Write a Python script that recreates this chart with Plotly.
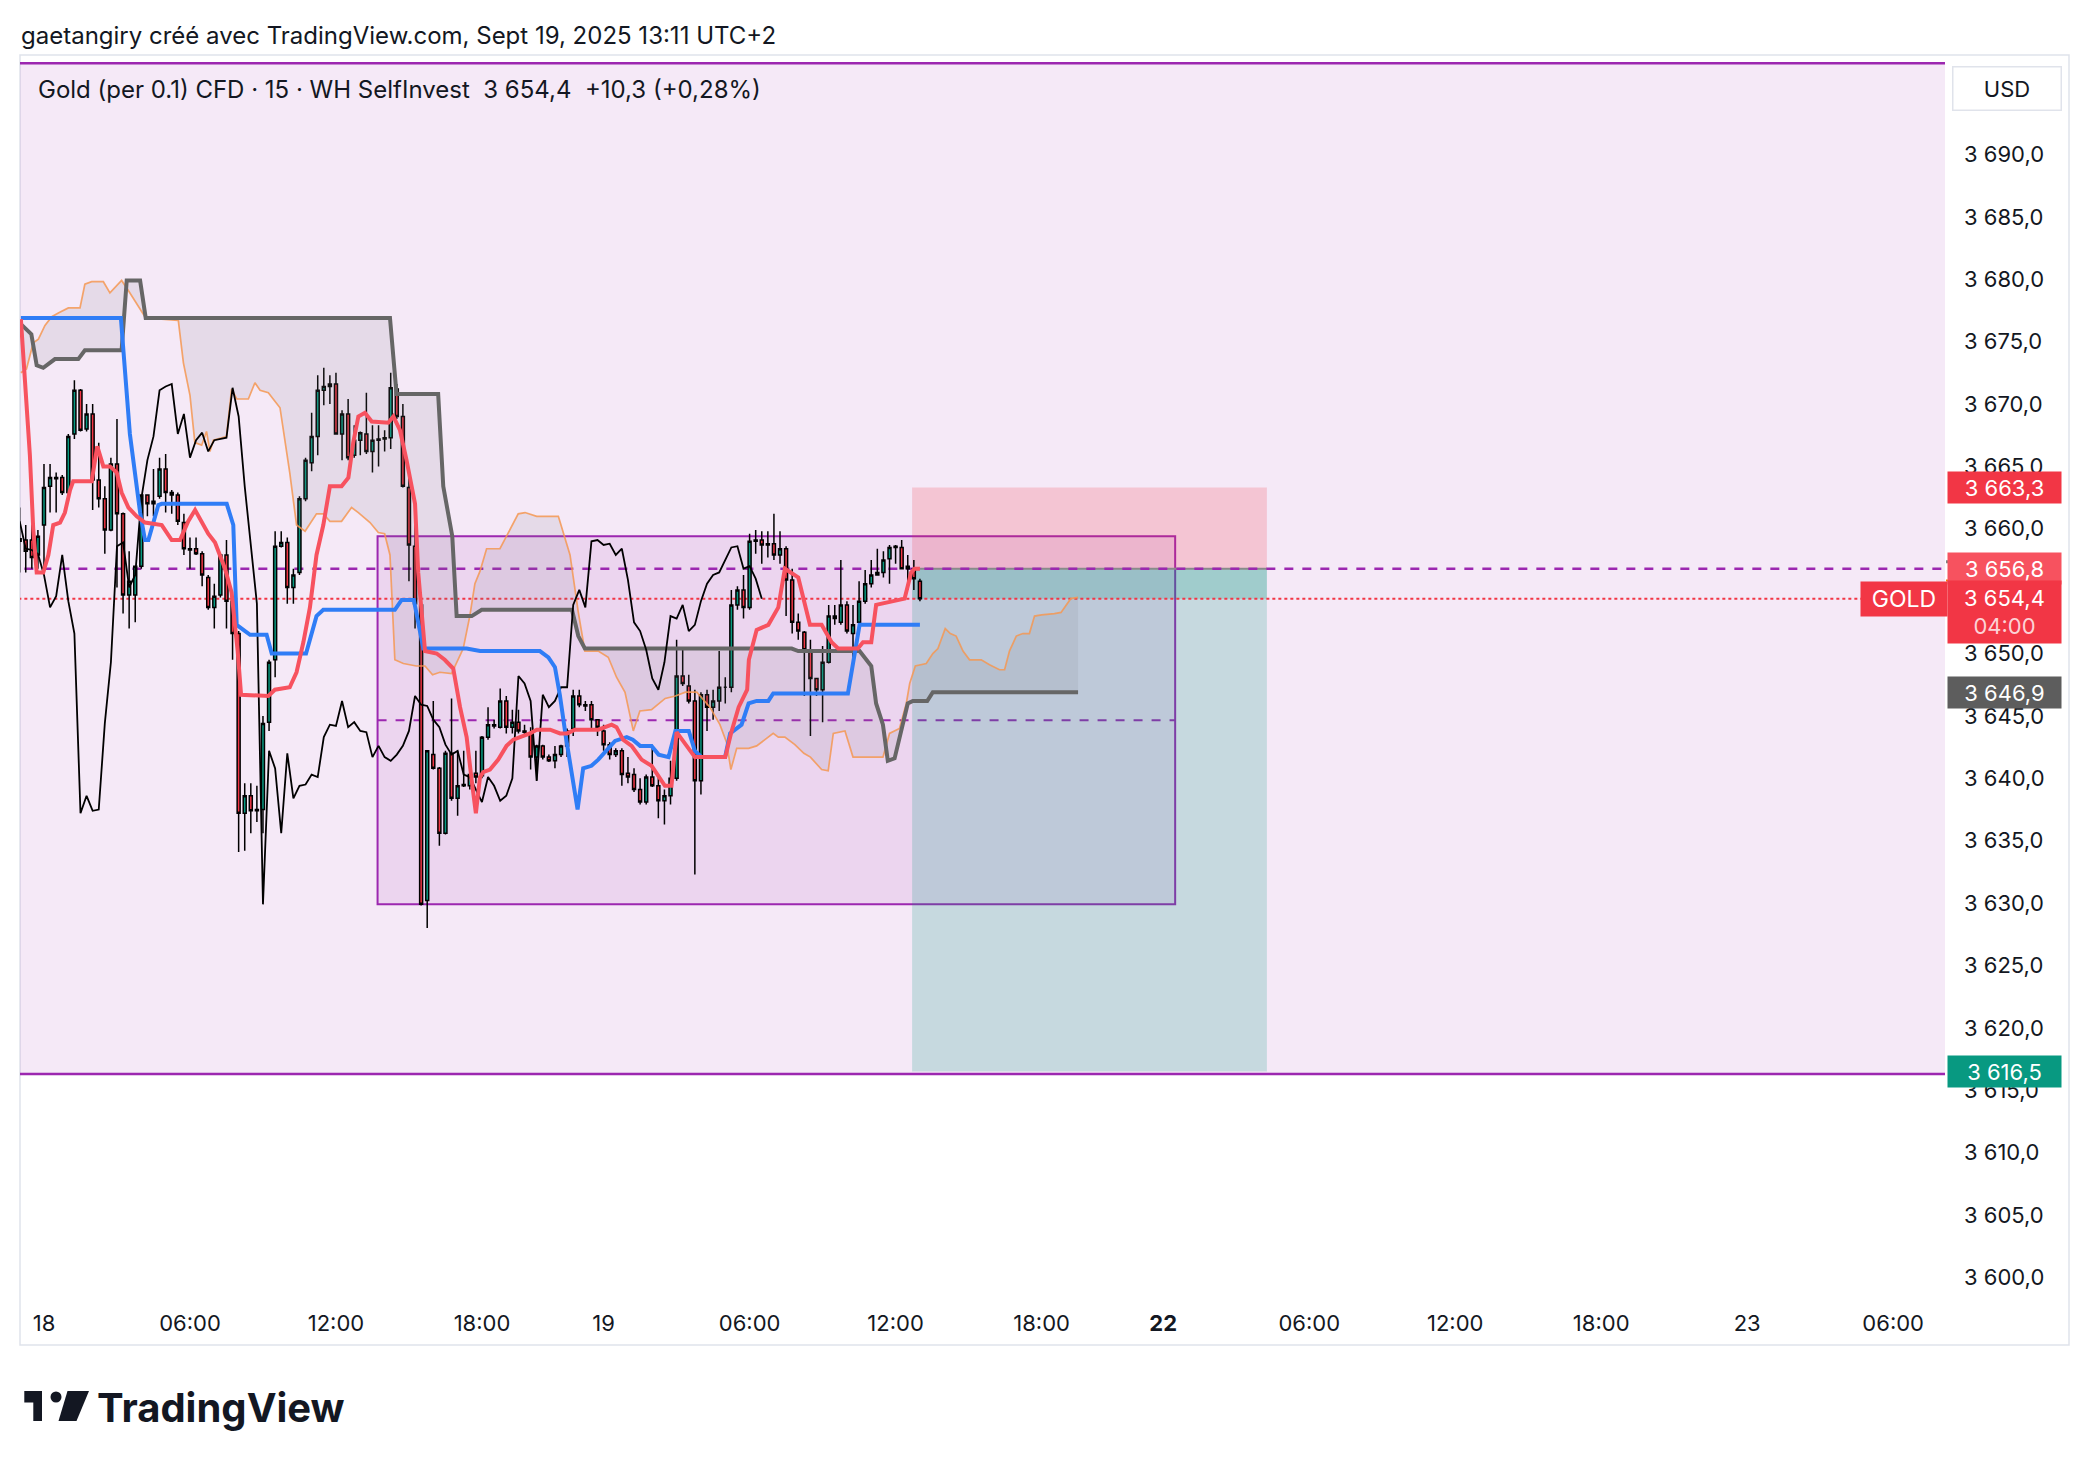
import plotly.graph_objects as go

# --- chart values --------------------------------------------------------
# time axis is in "trading hours" from 18 Sept 00:00 (daily break and weekend removed)
tick_pos = [0, 6, 12, 18, 23, 29, 35, 41, 46, 52, 58, 64, 70, 76]
tick_txt = ["18", "06:00", "12:00", "18:00", "19", "06:00", "12:00", "18:00",
            "<b>22</b>", "06:00", "12:00", "18:00", "23", "06:00"]

# 15 min bars, first bar at -1 h
bar_start, bar_step = -1.0, 0.25

opens = [3659.2, 3659.1, 3659.1, 3657.9, 3660.3, 3663.4, 3664.1, 3664.1, 3662.9, 3667.6,
         3671.1, 3668.0, 3669.2, 3663.9, 3662.4, 3659.9, 3665.2, 3661.2, 3654.7, 3654.7,
         3657.0, 3662.7, 3662.0, 3662.6, 3664.8, 3662.9, 3662.7, 3660.5, 3658.4, 3658.4,
         3658.0, 3656.1, 3653.7, 3654.7, 3657.9, 3654.2, 3651.6, 3637.2, 3638.6, 3637.4,
         3637.5, 3644.5, 3649.5, 3658.6, 3658.9, 3655.3, 3656.5, 3662.4, 3665.3, 3667.4,
         3671.1, 3671.4, 3671.6, 3667.6, 3669.2, 3665.9, 3667.1, 3667.6, 3666.2, 3667.1,
         3667.2, 3667.3, 3671.2, 3669.0, 3663.3, 3658.6, 3653.9, 3630.2, 3641.9, 3640.8,
         3635.6, 3642.0, 3638.4, 3639.4, 3639.4, 3640.4, 3640.2, 3643.3, 3644.3, 3644.1,
         3646.2, 3644.1, 3644.5, 3643.8, 3643.6, 3641.7, 3642.6, 3641.7, 3641.4, 3641.9,
         3642.6, 3644.0, 3646.6, 3645.9, 3645.9, 3644.7, 3643.8, 3642.7, 3641.9, 3642.2,
         3640.4, 3640.3, 3639.1, 3638.1, 3640.1, 3639.4, 3638.2, 3638.6, 3640.0, 3648.2,
         3647.4, 3646.2, 3639.8, 3646.7, 3645.7, 3646.2, 3647.3, 3647.3, 3653.9, 3655.1,
         3653.7, 3659.0, 3659.1, 3658.7, 3658.8, 3657.9, 3658.4, 3655.9, 3652.5, 3651.7,
         3650.3, 3648.0, 3647.1, 3649.3, 3653.0, 3652.5, 3653.9, 3651.6, 3652.5, 3654.2,
         3655.6, 3656.3, 3656.5, 3657.6, 3658.5, 3658.5, 3656.8, 3656.8, 3655.8]
highs = [3661.7, 3660.3, 3660.3, 3659.9, 3665.2, 3665.2, 3664.5, 3664.3, 3667.6, 3671.9,
         3671.2, 3670.0, 3670.0, 3666.9, 3663.4, 3665.7, 3668.8, 3661.3, 3658.2, 3657.0,
         3662.7, 3662.7, 3664.8, 3665.7, 3666.0, 3663.1, 3662.9, 3661.2, 3659.3, 3659.3,
         3658.2, 3656.3, 3655.6, 3658.0, 3659.1, 3654.4, 3651.8, 3639.6, 3639.6, 3639.4,
         3645.0, 3649.5, 3659.8, 3659.8, 3659.3, 3656.8, 3662.6, 3665.7, 3669.3, 3672.3,
         3672.9, 3672.3, 3672.5, 3669.5, 3670.4, 3668.3, 3667.8, 3670.9, 3668.3, 3668.3,
         3667.9, 3672.5, 3671.6, 3670.0, 3664.1, 3661.2, 3654.9, 3642.2, 3646.2, 3640.9,
         3642.2, 3646.4, 3642.2, 3642.2, 3641.2, 3642.2, 3643.4, 3645.7, 3644.7, 3647.2,
         3646.6, 3645.5, 3645.5, 3644.3, 3644.1, 3642.7, 3642.7, 3641.9, 3642.6, 3642.7,
         3644.0, 3647.1, 3647.1, 3646.2, 3646.2, 3644.7, 3644.3, 3642.9, 3642.4, 3642.4,
         3641.7, 3640.8, 3640.0, 3640.3, 3642.7, 3640.1, 3639.1, 3641.4, 3651.1, 3650.3,
         3648.3, 3647.1, 3646.9, 3647.1, 3647.1, 3650.2, 3648.1, 3655.1, 3655.4, 3656.3,
         3659.6, 3659.9, 3659.8, 3659.8, 3661.2, 3659.8, 3658.6, 3656.8, 3653.2, 3651.8,
         3651.1, 3648.0, 3650.6, 3653.9, 3653.9, 3657.5, 3654.2, 3653.9, 3655.8, 3656.7,
         3657.5, 3658.4, 3658.2, 3658.7, 3658.7, 3659.1, 3657.9, 3657.5, 3656.0]
lows = [3656.5, 3656.5, 3656.8, 3656.8, 3657.0, 3661.3, 3661.3, 3662.7, 3662.2, 3667.2,
        3667.8, 3667.8, 3661.5, 3661.7, 3658.0, 3659.8, 3655.3, 3653.2, 3652.0, 3652.5,
        3656.8, 3661.0, 3661.0, 3662.4, 3661.3, 3661.2, 3660.3, 3657.9, 3656.8, 3657.9,
        3655.4, 3653.5, 3652.0, 3654.5, 3652.0, 3649.5, 3634.1, 3634.2, 3635.6, 3636.5,
        3635.6, 3643.8, 3648.1, 3658.5, 3654.0, 3654.0, 3656.3, 3662.2, 3664.6, 3665.9,
        3669.9, 3670.0, 3667.6, 3665.5, 3665.5, 3665.7, 3665.9, 3666.0, 3664.5, 3665.0,
        3666.2, 3666.4, 3668.8, 3663.3, 3655.8, 3652.0, 3629.8, 3628.0, 3640.7, 3634.6,
        3635.5, 3638.2, 3637.0, 3639.3, 3639.1, 3639.6, 3640.0, 3643.1, 3644.0, 3644.0,
        3643.6, 3643.6, 3643.6, 3643.4, 3640.7, 3639.8, 3641.5, 3641.3, 3640.8, 3641.7,
        3641.7, 3643.4, 3645.7, 3645.4, 3644.0, 3643.4, 3642.2, 3641.5, 3641.7, 3639.4,
        3639.6, 3638.9, 3637.9, 3637.9, 3639.3, 3636.8, 3636.3, 3637.9, 3639.8, 3647.4,
        3646.0, 3632.3, 3638.7, 3643.8, 3644.7, 3645.4, 3646.0, 3646.9, 3653.5, 3652.8,
        3653.5, 3658.0, 3657.2, 3657.7, 3657.5, 3657.2, 3653.0, 3651.6, 3651.1, 3646.6,
        3643.4, 3646.6, 3644.5, 3649.2, 3652.3, 3652.3, 3651.6, 3649.7, 3652.3, 3654.0,
        3655.3, 3656.3, 3656.1, 3655.6, 3657.2, 3656.8, 3655.1, 3655.1, 3654.2]
closes = [3659.0, 3658.2, 3657.7, 3659.4, 3663.3, 3664.1, 3664.0, 3662.9, 3667.4, 3671.1,
          3667.9, 3669.2, 3663.9, 3662.4, 3659.9, 3665.2, 3661.2, 3654.7, 3655.8, 3657.0,
          3662.7, 3662.0, 3662.2, 3664.8, 3662.9, 3662.7, 3660.6, 3658.4, 3658.3, 3658.0,
          3656.3, 3653.7, 3654.6, 3657.9, 3654.2, 3651.6, 3637.2, 3638.6, 3637.4, 3637.5,
          3644.4, 3649.3, 3658.6, 3658.9, 3655.3, 3656.3, 3662.4, 3665.5, 3667.4, 3671.1,
          3671.4, 3671.6, 3667.6, 3669.2, 3665.7, 3667.1, 3667.7, 3666.2, 3667.1, 3667.2,
          3667.3, 3671.3, 3669.0, 3663.4, 3658.7, 3654.0, 3629.9, 3642.2, 3640.8, 3635.6,
          3642.0, 3638.4, 3639.4, 3639.5, 3640.3, 3640.1, 3643.3, 3644.3, 3644.2, 3646.2,
          3644.1, 3644.5, 3643.8, 3643.7, 3641.7, 3642.6, 3641.7, 3641.4, 3641.9, 3642.6,
          3643.8, 3646.6, 3645.9, 3645.8, 3644.7, 3644.1, 3642.7, 3641.9, 3642.2, 3640.3,
          3640.1, 3639.1, 3638.1, 3640.1, 3639.4, 3638.2, 3638.6, 3640.0, 3648.2, 3647.6,
          3646.2, 3639.8, 3646.7, 3645.7, 3646.2, 3647.3, 3647.3, 3653.9, 3655.1, 3653.7,
          3659.0, 3659.1, 3658.7, 3658.8, 3657.9, 3658.4, 3655.9, 3652.5, 3651.8, 3650.3,
          3648.0, 3647.1, 3649.3, 3653.0, 3652.8, 3653.9, 3651.8, 3652.3, 3654.2, 3655.6,
          3656.3, 3656.5, 3657.5, 3658.5, 3658.6, 3656.8, 3657.0, 3656.0, 3654.4]

# Ichimoku lines, read as (time, price) points
tenkan_t = [-0.95, -0.58, -0.44, -0.30, -0.03, 0.18, 0.38, 0.66, 0.86, 1.07, 1.2, 1.96, 2.19, 2.44,
            2.71, 2.99, 3.19, 3.47, 3.81, 4.15, 4.84, 5.25, 5.59, 5.93, 6.21, 6.48, 6.75, 7.03,
            7.44, 7.71, 7.96, 8.1, 9.22, 9.49, 10.1, 10.38, 10.66, 10.93, 11.2, 11.48, 11.75,
            12.23, 12.51, 12.71, 12.92, 13.19, 13.47, 14.15, 14.36, 14.63, 14.9, 15.25, 15.38,
            15.66, 16.14, 16.47, 16.82, 17.1, 17.37, 17.58, 17.75, 17.92, 18.05, 18.33, 18.67,
            19.01, 19.29, 19.97, 20.25, 20.8, 21.21, 21.5, 21.82, 22.78, 23.33, 23.53, 23.8,
            24.15, 24.56, 24.97, 25.32, 25.52, 25.79, 26.0, 26.75, 28.0, 28.25, 28.55, 28.9,
            28.97, 29.29, 29.77, 30.18, 30.45, 31.0, 31.48, 31.96, 32.37, 32.64, 33.45, 33.66,
            34.0, 34.2, 34.82, 35.37, 35.64, 35.78, 36.0]
tenkan_v = [3676.8, 3665.9, 3659.9, 3656.5, 3656.5, 3657.9, 3660.3, 3660.5, 3661.3, 3663.1, 3663.8,
            3663.8, 3666.6, 3665.0, 3665.0, 3664.5, 3662.9, 3661.7, 3661.0, 3660.5, 3660.3, 3659.1,
            3659.1, 3660.6, 3661.5, 3660.6, 3659.6, 3658.9, 3656.8, 3654.9, 3650.2, 3646.7, 3646.6,
            3647.1, 3647.3, 3648.5, 3650.9, 3653.7, 3657.9, 3660.3, 3663.4, 3663.4, 3664.1, 3666.9,
            3669.0, 3669.3, 3668.6, 3668.5, 3669.0, 3667.9, 3665.5, 3662.0, 3656.5, 3650.2, 3650.0,
            3649.5, 3648.8, 3645.7, 3643.3, 3639.8, 3637.2, 3640.1, 3640.5, 3640.7, 3641.5, 3642.6,
            3643.1, 3643.6, 3643.9, 3643.9, 3643.6, 3643.6, 3643.9, 3643.9, 3644.3, 3644.1, 3643.1,
            3642.6, 3641.5, 3641.0, 3640.0, 3639.4, 3639.4, 3643.7, 3641.7, 3641.7, 3643.7, 3645.7,
            3647.1, 3649.5, 3651.9, 3652.3, 3653.7, 3656.8, 3656.1, 3652.3, 3652.3, 3650.9, 3650.4,
            3650.4, 3650.9, 3650.9, 3653.9, 3654.2, 3654.4, 3656.5, 3656.8, 3656.8]

kijun_t = [-0.95, 3.16, 3.53, 3.95, 4.15, 4.29, 4.7, 4.84, 7.51, 7.78, 7.92, 8.12, 8.47, 9.15, 9.36,
           10.77, 11.2, 11.48, 14.42, 14.7, 15.2, 15.59, 17.37, 17.92, 20.38, 20.73, 21.0, 21.2,
           21.45, 21.93, 22.16, 22.5, 22.78, 23.47, 23.95, 24.2, 24.5, 24.97, 25.26, 25.67, 25.95,
           26.5, 26.75, 27.03, 27.99, 28.2, 28.67, 28.96, 29.29, 29.77, 29.97, 33.04, 33.52, 36.0]
kijun_v = [3676.9, 3676.9, 3667.6, 3661.3, 3659.1, 3659.1, 3661.9, 3662.0, 3662.0, 3660.3, 3652.3,
           3652.0, 3651.5, 3651.5, 3650.0, 3650.0, 3653.0, 3653.5, 3653.5, 3654.3, 3654.3, 3650.4,
           3650.4, 3650.2, 3650.2, 3649.7, 3648.9, 3646.7, 3643.3, 3637.5, 3640.8, 3641.0, 3641.5,
           3643.0, 3643.3, 3643.1, 3642.6, 3642.6, 3641.9, 3641.7, 3643.8, 3643.8, 3642.2, 3641.7,
           3641.7, 3643.6, 3644.3, 3646.0, 3646.2, 3646.2, 3646.8, 3646.8, 3652.3, 3652.3]

span_a_t = [-0.95, -0.72, -0.44, -0.23, 0.04, 0.32, 0.59, 1.0, 1.48, 1.68, 1.96, 2.44, 2.71, 3.19,
            3.5, 4.18, 5.52, 5.73, 6.0, 6.2, 6.48, 6.68, 6.82, 6.96, 7.16, 7.5, 7.71, 7.92, 8.4,
            8.67, 8.88, 9.22, 9.7, 10.1, 10.38, 10.73, 11.2, 11.48, 11.75, 12.23, 12.64, 12.92,
            13.4, 13.74, 14.0, 14.22, 14.42, 14.77, 15.3, 15.66, 15.97, 16.27, 16.75, 17.23, 17.5,
            17.71, 17.92, 18.19, 18.74, 19.15, 19.49, 19.77, 20.25, 21.14, 21.41, 21.62, 21.96,
            22.23, 22.78, 23.19, 23.53, 23.88, 24.22, 24.49, 24.97, 25.26, 25.53, 25.95, 26.36,
            26.83, 26.96, 27.37, 27.78, 28.05, 28.23, 28.47, 28.96, 29.29, 29.63, 29.97, 30.18,
            30.45, 30.86, 31.23, 31.5, 31.96, 32.23, 32.44, 32.92, 33.25, 34.48, 34.75, 35.16,
            35.44, 35.58, 35.81, 36.26, 36.53, 36.74, 37.04, 37.25, 37.49, 37.77, 38.04, 38.52,
            38.86, 39.27, 39.48, 39.68, 39.96, 40.23, 40.5, 40.71, 41.0, 41.53, 41.8, 42.2, 42.5]
span_a_v = [3672.5, 3672.8, 3674.9, 3675.2, 3676.3, 3677.0, 3677.3, 3677.7, 3677.7, 3679.6, 3679.8,
            3679.8, 3678.9, 3679.9, 3679.0, 3676.9, 3676.7, 3673.3, 3670.7, 3666.9, 3666.7, 3667.8,
            3666.2, 3667.1, 3667.2, 3667.4, 3671.2, 3670.4, 3670.4, 3671.7, 3671.1, 3670.9, 3669.7,
            3664.5, 3660.3, 3659.8, 3661.2, 3661.2, 3660.6, 3660.6, 3661.7, 3661.3, 3660.5, 3659.7,
            3659.6, 3657.9, 3649.5, 3649.2, 3649.0, 3649.0, 3648.3, 3648.5, 3648.4, 3650.4, 3653.0,
            3655.6, 3656.6, 3658.4, 3658.4, 3659.9, 3661.2, 3661.3, 3661.0, 3661.0, 3659.3, 3657.9,
            3653.3, 3650.2, 3650.2, 3649.7, 3648.1, 3646.9, 3643.8, 3645.4, 3645.5, 3646.0, 3646.4,
            3646.6, 3646.9, 3646.9, 3646.6, 3645.7, 3644.3, 3642.9, 3640.7, 3642.4, 3642.4, 3642.6,
            3643.1, 3643.6, 3643.3, 3643.3, 3642.7, 3642.0, 3641.7, 3640.7, 3640.6, 3643.6, 3643.8,
            3641.7, 3641.7, 3643.6, 3644.0, 3646.0, 3647.6, 3649.0, 3649.2, 3650.0, 3650.4, 3652.0,
            3651.6, 3651.4, 3650.2, 3649.5, 3649.5, 3649.1, 3648.7, 3648.7, 3650.2, 3651.4, 3651.6,
            3651.6, 3653.0, 3653.1, 3653.2, 3653.3, 3654.4, 3654.5]

span_b_t = [-0.95, -0.52, -0.3, -0.03, 0.45, 1.41, 1.68, 3.19, 3.4, 3.95, 4.18, 14.22, 14.49, 16.2,
            16.41, 16.78, 16.96, 17.58, 17.99, 21.7, 21.96, 22.23, 30.73, 31.0, 33.52, 34.0, 34.2,
            34.48, 34.68, 34.96, 35.5, 35.71, 36.3, 36.53, 42.5]
span_b_v = [3676.4, 3675.6, 3673.1, 3672.9, 3673.6, 3673.6, 3674.3, 3674.3, 3679.9, 3679.9, 3676.9,
            3676.9, 3670.8, 3670.8, 3663.4, 3659.4, 3653.0, 3653.0, 3653.5, 3653.5, 3651.4, 3650.4,
            3650.4, 3650.2, 3650.2, 3649.0, 3646.0, 3644.3, 3641.4, 3641.6, 3646.0, 3646.2, 3646.2,
            3646.9, 3646.9]
lag_bars = 26

# drawings
zone_top, zone_bottom = 3697.3, 3616.3
box_t0, box_t1, box_top, box_bottom = 13.71, 46.49, 3659.4, 3629.9
level_line = 3656.8
pos_t0, pos_t1 = 35.68, 50.26
pos_entry, pos_stop, pos_target = 3656.8, 3663.3, 3616.5
last_price = 3654.4
senkou_b_last = 3646.9

# 3655 sits fully under the price boxes in the picture
y_ticks = [3600, 3605, 3610, 3615, 3620, 3625, 3630, 3635, 3640, 3645, 3650,
           3660, 3665, 3670, 3675, 3680, 3685, 3690]

# --- layout geometry ----------------------------------------------------
# page body has an 8px margin, so the figure is 8px smaller than the window
W, H = 2080, 1458
PL, PR, PT, PB = 20, 1945, 55, 1300          # plot edges in screenshot pixels
ML, MR, MT, MB = PL - 8, W - (PR - 8), PT - 8, H - (PB - 8)
X0, X1 = -0.986, 78.13
Y0, Y1 = 3598.19, 3697.97
FONT = "Inter, Roboto, sans-serif"
TXT = "#131722"


def px(x):
    return (x - PL) / (PR - PL)


def py(y):
    return (PB - y) / (PB - PT)


def pp(price):
    return (price - Y0) / (Y1 - Y0)


def fmt(v):
    return f"{v:,.1f}".replace(",", "\u00a0").replace(".", ",")


bar_t = [bar_start + bar_step * i for i in range(len(closes))]

fig = go.Figure()

# cloud
fig.add_trace(go.Scatter(x=span_a_t, y=span_a_v, mode="lines",
                         line=dict(color="rgba(244,152,82,0.85)", width=1.7),
                         hoverinfo="skip"))
fig.add_trace(go.Scatter(x=span_b_t, y=span_b_v, mode="lines",
                         line=dict(color="#666666", width=4),
                         fill="tonexty", fillcolor="rgba(120,120,128,0.13)",
                         hoverinfo="skip"))
# lagging span
fig.add_trace(go.Scatter(x=bar_t[:-lag_bars], y=closes[lag_bars:], mode="lines",
                         line=dict(color="#000000", width=1.8), hoverinfo="skip"))
fig.add_trace(go.Scatter(x=kijun_t, y=kijun_v, mode="lines",
                         line=dict(color="#2f7df6", width=4), hoverinfo="skip"))
fig.add_trace(go.Scatter(x=tenkan_t, y=tenkan_v, mode="lines",
                         line=dict(color="#f7525f", width=4), hoverinfo="skip"))

fig.add_trace(go.Candlestick(
    x=bar_t, open=opens, high=highs, low=lows, close=closes,
    increasing=dict(line=dict(color="#000000", width=1.5), fillcolor="#089981"),
    decreasing=dict(line=dict(color="#000000", width=1.5), fillcolor="#f23645"),
    whiskerwidth=0, hoverinfo="skip"))

shapes = [
    # big zone
    dict(type="rect", xref="x", yref="y", x0=X0 - 5, x1=X1 + 5, y0=zone_bottom, y1=zone_top,
         fillcolor="rgba(156,39,176,0.1)", line=dict(color="#9c27b0", width=2.5), layer="below"),
    # range box
    dict(type="rect", xref="x", yref="y", x0=box_t0, x1=box_t1, y0=box_bottom, y1=box_top,
         fillcolor="rgba(156,39,176,0.1)", line=dict(color="#9c27b0", width=2), layer="below"),
    dict(type="line", xref="x", yref="y", x0=box_t0, x1=box_t1,
         y0=(box_top + box_bottom) / 2, y1=(box_top + box_bottom) / 2,
         line=dict(color="#9c27b0", width=2, dash="dash"), layer="below"),
    # short position
    dict(type="rect", xref="x", yref="y", x0=pos_t0, x1=pos_t1, y0=pos_entry, y1=pos_stop,
         fillcolor="rgba(242,54,69,0.2)", line=dict(width=0), layer="below"),
    dict(type="rect", xref="x", yref="y", x0=pos_t0, x1=pos_t1, y0=pos_target, y1=pos_entry,
         fillcolor="rgba(8,153,129,0.2)", line=dict(width=0), layer="below"),
    dict(type="rect", xref="x", yref="y", x0=pos_t0, x1=pos_t1, y0=last_price, y1=pos_entry,
         fillcolor="rgba(8,153,129,0.2)", line=dict(width=0), layer="below"),
    dict(type="line", xref="x", yref="y", x0=pos_t0, x1=pos_t1, y0=pos_entry, y1=pos_entry,
         line=dict(color="#8a8a8a", width=2), layer="below"),
    # level & price lines
    dict(type="line", xref="x", yref="y", x0=X0 - 5, x1=X1 + 5, y0=level_line, y1=level_line,
         line=dict(color="#9c27b0", width=2.5, dash="dash"), layer="below"),
    dict(type="line", xref="x", yref="y", x0=X0 - 5, x1=X1 + 5, y0=last_price, y1=last_price,
         line=dict(color="#f23645", width=2, dash="dot"), layer="below"),
    # outer frame
    dict(type="rect", xref="paper", yref="paper", x0=px(20), x1=px(2069), y0=py(1345), y1=py(55),
         line=dict(color="#e0e3eb", width=1.5), fillcolor="rgba(0,0,0,0)", layer="below"),
    # TradingView logo
    dict(type="path", xref="paper", yref="paper",
         path=(f"M {px(24.3)} {py(1391)} L {px(42)} {py(1391)} L {px(42)} {py(1421)} "
               f"L {px(33.3)} {py(1421)} L {px(33.3)} {py(1402.5)} L {px(24.3)} {py(1402.5)} Z"),
         fillcolor="#131722", line=dict(width=0)),
    dict(type="circle", xref="paper", yref="paper", x0=px(50.5), x1=px(61.5),
         y0=py(1402.5), y1=py(1391.5), fillcolor="#131722", line=dict(width=0)),
    dict(type="path", xref="paper", yref="paper",
         path=(f"M {px(67.5)} {py(1391)} L {px(89)} {py(1391)} L {px(76.5)} {py(1421)} "
               f"L {px(58.5)} {py(1421)} Z"),
         fillcolor="#131722", line=dict(width=0)),
    # thin strips peeking above axis labels
    dict(type="line", xref="paper", yref="paper", x0=px(1946), x1=px(2060),
         y0=pp(3657.35), y1=pp(3657.35), line=dict(color="#808080", width=3)),
    dict(type="line", xref="paper", yref="paper", x0=px(1946), x1=px(2060),
         y0=pp(3655.85), y1=pp(3655.85), line=dict(color="#f57c00", width=2)),
]

ann = []
# header texts
ann.append(dict(xref="paper", yref="paper", x=px(19), y=py(36), xanchor="left", yanchor="middle",
                text="gaetangiry créé avec TradingView.com, Sept 19, 2025 13:11 UTC+2",
                showarrow=False, font=dict(family=FONT, size=24, color=TXT)))
ann.append(dict(xref="paper", yref="paper", x=px(36), y=py(89), xanchor="left", yanchor="middle",
                text="Gold (per 0.1) CFD · 15 · WH SelfInvest\u00a0\u00a0" + fmt(last_price)
                     + "\u00a0\u00a0+10,3 (+0,28%)",
                showarrow=False, font=dict(family=FONT, size=24, color=TXT)))
ann.append(dict(xref="paper", yref="paper", x=px(95), y=py(1407), xanchor="left", yanchor="middle",
                text="<b>TradingView</b>", showarrow=False,
                font=dict(family=FONT, size=40, color="#131722")))
# USD box
ann.append(dict(xref="paper", yref="paper", x=px(1952), y=py(88), xanchor="left", yanchor="middle",
                text="USD", showarrow=False, width=105, height=40, bgcolor="#ffffff",
                bordercolor="#e0e3eb", borderwidth=1.5,
                font=dict(family=FONT, size=22, color=TXT)))


def price_box(price, color, text=None, height=31, shift=0):
    return dict(xref="paper", yref="paper", x=px(1947), y=pp(price), xanchor="left",
                yanchor="middle", yshift=shift, text=text or fmt(price), showarrow=False,
                width=113, height=height, bgcolor=color, borderpad=0,
                font=dict(family=FONT, size=22, color="#ffffff"))


ann.append(price_box(pos_stop, "#f23645"))
ann.append(price_box(pos_entry, "#f7525f"))
ann.append(price_box(last_price, "#f23645",
                     text=fmt(last_price) + "<br><span style='color:#fcd3d7'>04:00</span>",
                     height=62, shift=-13))
ann.append(price_box(senkou_b_last, "#5d5d5d"))
ann.append(price_box(pos_target, "#089981"))
ann.append(dict(xref="paper", yref="paper", x=px(1860), y=pp(last_price), xanchor="left",
                yanchor="middle", text="GOLD", showarrow=False, width=84, height=32,
                bgcolor="#f23645", font=dict(family=FONT, size=23, color="#ffffff")))

fig.update_layout(
    width=W, height=H, margin=dict(l=ML, r=MR, t=MT, b=MB),
    paper_bgcolor="#ffffff", plot_bgcolor="#ffffff",
    showlegend=False, shapes=shapes, annotations=ann,
    font=dict(family=FONT, color=TXT),
    xaxis=dict(range=[X0, X1], showgrid=False, zeroline=False, showline=False,
               rangeslider=dict(visible=False), tickmode="array", tickvals=tick_pos,
               ticktext=tick_txt, ticks="", tickfont=dict(family=FONT, size=22, color=TXT),
               ticklabelstandoff=8),
    yaxis=dict(range=[Y0, Y1], side="right", showgrid=False, zeroline=False, showline=False,
               tickmode="array", tickvals=y_ticks, ticktext=[fmt(v) for v in y_ticks],
               ticks="", tickfont=dict(family=FONT, size=22, color=TXT),
               ticklabelstandoff=18),
)

fig.write_html("out.html")
